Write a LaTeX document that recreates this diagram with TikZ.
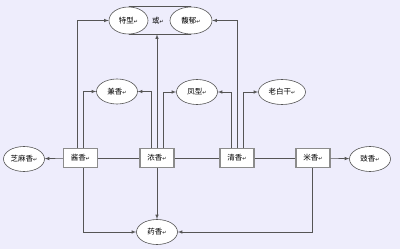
\documentclass[tikz,border=0pt]{standalone}
\usepackage{fontspec}
\setmainfont{Noto Sans CJK SC}
\newfontfamily\retfont{DejaVu Sans}
\usetikzlibrary{positioning,shapes.geometric}
\definecolor{bgblue}{RGB}{238,237,252}
\definecolor{linegray}{RGB}{85,85,85}
\newcommand{\ret}{{\retfont\fontsize{5}{5}\selectfont ↵}}

\begin{document}
\begin{tikzpicture}[x=1pt,y=-1pt,
    font=\fontsize{7.5}{8}\selectfont,
    box/.style={draw=gray!90, line width=1.1pt, fill=white, minimum width=34pt, minimum height=19pt, inner sep=0pt},
    oval/.style={draw=linegray, ellipse, fill=white, minimum width=41pt, minimum height=25pt, inner sep=0pt, line width=0.6pt},
    arr/.style={-latex, draw=linegray, line width=0.6pt},
    conn/.style={draw=linegray, line width=0.6pt}]
    % Background
    \fill[bgblue] (0,0) rectangle (400,249);
    \useasboundingbox (0,0) rectangle (400,249);
    % Define boxes
    \node[box] (jiang) at (80.5,158) {酱香\ret};
    \node[box] (nong) at (157,158) {浓香\ret};
    \node[box] (qing) at (237,158) {清香\ret};
    \node[box] (mi) at (313,158) {米香\ret};
    % Define ovals
    \node[oval] (zhima) at (24,159) {芝麻香\ret};
    \node[oval] (chi) at (370,159) {豉香\ret};
    \node[oval] (yao) at (157,232) {药香\ret};
    \node[oval] (jian) at (117,91.5) {兼香\ret};
    \node[oval] (feng) at (197,92) {凤型\ret};
    \node[oval, minimum width=47pt] (laobai) at (282,92) {老白干\ret};
    \node[oval, minimum width=39pt, minimum height=27pt] (texing) at (128.5,20.5) {特型\ret};
    \node[oval, minimum width=42pt, minimum height=27pt] (fuyu) at (191,20.5) {馥郁\ret};
    \node (huo) at (158,21) {或\ret};
    % Group outline
    \draw[conn] (texing.north) -- (fuyu.north);
    \draw[conn] (texing.south) -- (fuyu.south);
    % Row links
    \draw[conn] (jiang) -- (nong);
    \draw[conn] (nong) -- (qing);
    \draw[conn] (qing) -- (mi);
    \draw[arr] (jiang) -- (zhima);
    \draw[arr] (mi) -- (chi);
    % Upward branches
    \draw[arr] ([xshift=-3.5pt]jiang.north) |- (texing.west);
    \draw[arr] ([xshift=2.5pt]jiang.north) |- (jian.west);
    \draw[arr] ([xshift=-6pt]nong.north) |- (jian.east);
    \draw[arr] (nong.north) -- (nong.north |- texing.south);
    \draw[arr] ([xshift=6.5pt]nong.north) |- (feng.west);
    \draw[arr] ([xshift=-6pt]qing.north) |- (feng.east);
    \draw[arr] (qing.north) |- (fuyu.east);
    \draw[arr] ([xshift=6.5pt]qing.north) |- (laobai.west);
    % Downward branches
    \draw[arr] (nong) -- (yao);
    \draw[arr] ([xshift=2.5pt]jiang.south) |- (yao.west);
    \draw[arr] ([xshift=-1pt]mi.south) |- (yao.east);
\end{tikzpicture}
\end{document}
